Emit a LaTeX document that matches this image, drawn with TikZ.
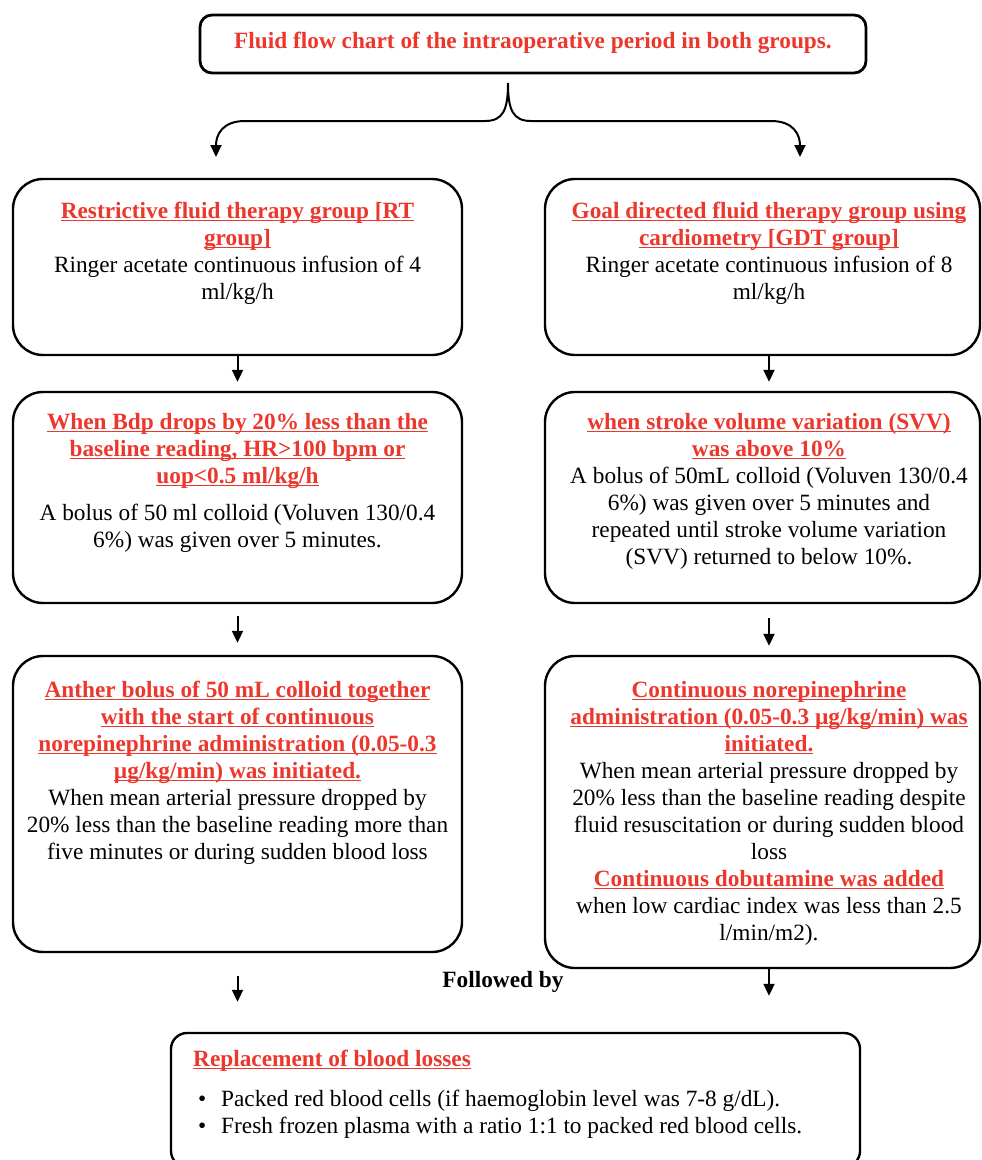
\documentclass[tikz,border=0pt]{standalone}
\usepackage{fontspec}
\setmainfont{Liberation Serif}
\usetikzlibrary{arrows.meta}
\definecolor{myred}{RGB}{236,55,45}
\newcommand\ulr[1]{{\setbox0\hbox{#1}\leavevmode\rlap{\rule[-3.2pt]{\wd0}{1.5pt}}\box0}}
\newcommand\hd[1]{{\bfseries\color{myred}\ulr{#1}}}
\newcommand\fs{\rule{0pt}{17pt}}
\begin{document}
\begin{tikzpicture}[x=1pt,y=-1pt,
  box/.style={draw, line width=2.4pt, rounded corners=30pt, inner sep=0pt},
  txt/.style={align=center, inner sep=0pt, anchor=north, font=\fontsize{23.3}{27}\selectfont},
  arr/.style={line width=2pt, -{Triangle[width=11pt,length=12pt]}}]
\path[use as bounding box, fill=white] (0,0) rectangle (982,1160);

% boxes
\node[box, minimum width=666pt, minimum height=58pt, rounded corners=12pt, line width=2.8pt] (T) at (533,44) {};
\node[box, minimum width=449pt, minimum height=176pt] (L1) at (237.5,267) {};
\node[box, minimum width=435pt, minimum height=176pt] (R1) at (762.5,267) {};
\node[box, minimum width=449pt, minimum height=211pt] (L2) at (237.5,497.5) {};
\node[box, minimum width=435pt, minimum height=211pt] (R2) at (762.5,497.5) {};
\node[box, minimum width=449pt, minimum height=296pt] (L3) at (237.5,804) {};
\node[box, minimum width=435pt, minimum height=312pt] (R3) at (762.5,812) {};
\node[box, minimum width=689pt, minimum height=134pt, rounded corners=16pt] (B) at (515.5,1100) {};

% texts
\node[txt, anchor=base, font=\fontsize{23.3}{27}\selectfont\bfseries\color{myred}] (Tt) at (533,48) {Fluid flow chart of the intraoperative period in both groups.};

\node[txt] (L1t) at (237.5,201) {\fs\hd{Restrictive fluid therapy group [RT}\\\hd{group]}\\Ringer acetate continuous infusion of 4\\ml/kg/h};
\node[txt] (R1t) at (769,201) {\fs\hd{Goal directed fluid therapy group using}\\\hd{cardiometry [GDT group]}\\Ringer acetate continuous infusion of 8\\ml/kg/h};

\node[txt] (L2t) at (237.5,412) {\fs\hd{When Bdp drops by 20\% less than the}\\\hd{baseline reading, HR>100 bpm or}\\\hd{uop<0.5 ml/kg/h}\\[10pt]A bolus of 50 ml colloid (Voluven 130/0.4\\6\%) was given over 5 minutes.};
\node[txt] (R2t) at (769,412) {\fs\hd{when stroke volume variation (SVV)}\\\hd{was above 10\%}\\A bolus of 50mL colloid (Voluven 130/0.4\\6\%) was given over 5 minutes and\\repeated until stroke volume variation\\(SVV) returned to below 10\%.};

\node[txt] (L3t) at (237.5,680) {\fs\hd{Anther bolus of 50 mL colloid together}\\\hd{with the start of continuous}\\\hd{norepinephrine administration (0.05-0.3}\\\hd{µg/kg/min) was initiated.}\\When mean arterial pressure dropped by\\20\% less than the baseline reading more than\\five minutes or during sudden blood loss};
\node[txt] (R3t) at (769,680) {\fs\hd{Continuous norepinephrine}\\\hd{administration (0.05-0.3 µg/kg/min) was}\\\hd{initiated.}\\When mean arterial pressure dropped by\\20\% less than the baseline reading despite\\fluid resuscitation or during sudden blood\\loss\\\hd{Continuous dobutamine was added}\\when low cardiac index was less than 2.5\\l/min/m2).};

\node[txt, anchor=base, font=\fontsize{23.3}{27}\selectfont\bfseries] (fb) at (503,987) {Followed by};

\node[txt, anchor=north west, align=left] (Bt) at (193,1049) {\fs\hd{Replacement of blood losses}\\[13pt]\makebox[28pt][l]{\hspace{5pt}•}Packed red blood cells (if haemoglobin level was 7-8 g/dL).\\\makebox[28pt][l]{\hspace{5pt}•}Fresh frozen plasma with a ratio 1:1 to packed red blood cells.};

% brace connectors
\coordinate (bt) at (508,83);
\coordinate (bl) at (216,157);
\coordinate (br) at (800,157);
\draw[arr] (bt) .. controls (508,110) and (503,121) .. (485,121) -- (245,121) .. controls (222,121) and (216,135) .. (bl);
\draw[arr] (bt) .. controls (508,110) and (513,121) .. (531,121) -- (771,121) .. controls (794,121) and (800,135) .. (br);

% arrows
\coordinate (rx) at (769,0);
\draw[arr, shorten >=9pt] (L1.south) -- (L2.north);
\draw[arr, shorten >=9pt] (R1.south -| rx) -- (R2.north -| rx);
\draw[arr, shorten <=12pt, shorten >=12pt] (L2.south) -- (L3.north);
\draw[arr, shorten <=14pt, shorten >=9pt] (R2.south -| rx) -- (R3.north -| rx);
\draw[arr, shorten <=23pt, shorten >=30pt] (L3.south) -- (B.north -| L3.south);
\draw[arr, shorten >=36pt] (R3.south -| rx) -- (B.north -| rx);
\end{tikzpicture}
\end{document}
